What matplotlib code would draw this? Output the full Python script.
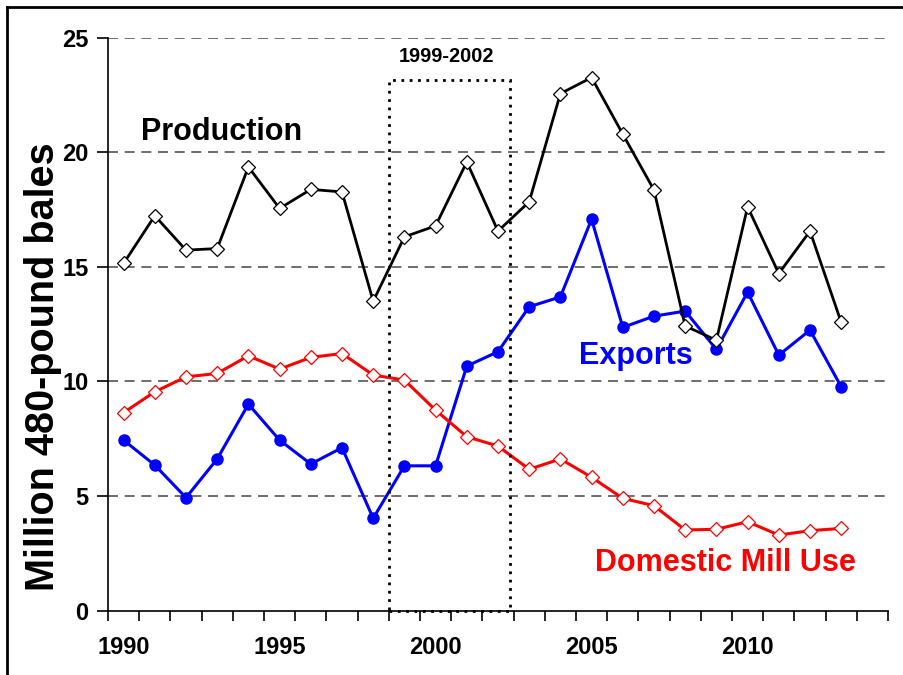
import matplotlib.pyplot as plt
from matplotlib.lines import Line2D
from matplotlib.patches import Rectangle

plt.rcParams['font.family'] = ['Liberation Sans', 'DejaVu Sans']

years = list(range(1990, 2014))
production = [15.15, 17.23, 15.73, 15.80, 19.36, 17.55, 18.38, 18.27, 13.50, 16.31, 16.79,
              19.58, 16.56, 17.84, 22.56, 23.26, 20.79, 18.35, 12.42, 11.80, 17.62, 14.71,
              16.56, 12.58]
exports = [7.44, 6.35, 4.93, 6.62, 9.01, 7.44, 6.40, 7.11, 4.03, 6.32, 6.32,
           10.67, 11.30, 13.26, 13.69, 17.08, 12.36, 12.85, 13.07, 11.40, 13.90, 11.15,
           12.24, 9.77]
mill_use = [8.64, 9.55, 10.20, 10.35, 11.12, 10.54, 11.05, 11.22, 10.28, 10.06, 8.75,
            7.59, 7.18, 6.17, 6.62, 5.82, 4.90, 4.58, 3.52, 3.55, 3.88, 3.30,
            3.49, 3.59]
y_ticks = [0, 5, 10, 15, 20, 25]
x_labels = [1990, 1995, 2000, 2005, 2010]

fig = plt.figure(figsize=(9.04, 6.75), dpi=100)
ax = fig.add_axes([108 / 904, 0.0953, 780 / 904, 0.8489])

ax.plot(years, production, color='black', lw=2, marker='D', ms=7,
        mfc='white', mec='black', mew=0.9, zorder=4)
ax.plot(years, exports, color='#0000FF', lw=2.2, marker='o', ms=8,
        mfc='#0000FF', mec='#0000FF', zorder=3)
ax.plot(years, mill_use, color='#FF0000', lw=2.2, marker='D', ms=7,
        mfc='white', mec='#FF0000', mew=0.9, zorder=3)

# highlighted period box
ax.add_patch(Rectangle((1998.5, 0), 3.88, 23.15, fill=False, ls=(0, (1, 2)),
                       lw=2, ec='black', zorder=5, clip_on=False))
ax.text(2000.34, 24.2, '1999-2002', ha='center', va='center',
        fontsize=14.4, fontweight='bold')

ax.text(1990.55, 20.9, 'Production', ha='left', va='center',
        fontsize=22, fontweight='bold', color='black')
ax.text(2006.43, 11.1, 'Exports', ha='center', va='center',
        fontsize=22, fontweight='bold', color='#0000FF')
ax.text(2009.28, 2.1, 'Domestic Mill Use', ha='center', va='center',
        fontsize=22, fontweight='bold', color='#FF0000')

ax.set_xlim(1989.5, 2014.5)
ax.set_ylim(0, 25)
ax.set_xticks([y - 0.5 for y in range(1990, 2016)])
ax.set_xticklabels([])
ax.set_xticks(x_labels, minor=True)
ax.set_xticklabels([str(x) for x in x_labels], minor=True, fontsize=17,
                   fontweight='bold')
ax.tick_params(axis='x', which='minor', length=0, pad=18)
ax.tick_params(axis='x', which='major', length=7, width=1.2, direction='out')
ax.set_yticks(y_ticks)
ax.set_yticklabels([str(v) for v in y_ticks], fontsize=17, fontweight='bold')
ax.tick_params(axis='y', length=8, width=1.2, direction='out', pad=6)

for v in y_ticks[1:]:
    ax.axhline(v, color='#555555', lw=1.2, ls=(0, (6, 4)), zorder=1)

for s in ['top', 'right']:
    ax.spines[s].set_visible(False)
ax.spines['left'].set_linewidth(1.2)
ax.spines['bottom'].set_linewidth(1.2)

fig.text(43 / 904, 1 - 367 / 675, 'Million 480-pound bales', rotation=90,
         ha='center', va='center', fontsize=28.5, fontweight='bold')

# outer frame of the original slide
fig.add_artist(Line2D([7 / 904, 7 / 904], [0, 1 - 7 / 675], color='black', lw=2,
                      transform=fig.transFigure))
fig.add_artist(Line2D([7 / 904, 1], [1 - 7 / 675, 1 - 7 / 675], color='black', lw=2,
                      transform=fig.transFigure))

fig.savefig('out.png', dpi=100)
